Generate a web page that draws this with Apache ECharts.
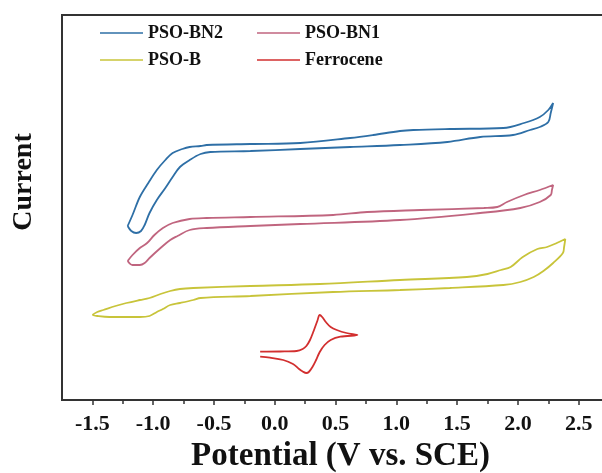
<!DOCTYPE html>
<html>
<head>
<meta charset="utf-8">
<script src="https://cdn.jsdelivr.net/npm/echarts@6/dist/echarts.min.js"></script>
<style>html,body{margin:0;padding:0;background:#fff;}#c{width:602px;height:473px;}</style>
</head>
<body>
<div id="c"></div>
<script>
// Series names
const seriesNames = ['PSO-BN2', 'PSO-BN1', 'PSO-B', 'Ferrocene'];
// Tick values (V vs. SCE)
const tickValues = [-1.5, -1.0, -0.5, 0.0, 0.5, 1.0, 1.5, 2.0, 2.5];
const minorTickValues = [-1.25, -0.75, -0.25, 0.25, 0.75, 1.25, 1.75, 2.25];

// Cyclic voltammograms: [potential (V), current (arb. units)]
const pso_bn2 = [
  [-1.21,174],[-1.17,185],[-1.11,203],[-1.04,217],[-0.97,230],[-0.90,240],[-0.84,247],[-0.76,251],
  [-0.70,253],[-0.61,254],[-0.56,255],[-0.20,256],[0.21,257],[0.62,262],[0.81,265],[1.03,269],
  [1.14,270],[1.44,271],[1.88,272],[2.05,277],[2.18,283],[2.25,290],[2.29,297],
  [2.27,287],[2.25,278],[2.18,273],[2.10,270],[1.96,265],[1.69,263],[1.42,258],[1.03,255],
  [0.62,253],[0.21,251],[-0.20,249],[-0.53,248],[-0.61,246],[-0.70,240],[-0.78,233],[-0.84,223],
  [-0.90,212],[-0.97,200],[-1.03,187],[-1.07,175],[-1.10,169],[-1.14,167],[-1.18,169],[-1.21,174]
];
const pso_bn1 = [
  [-1.21,139],[-1.17,145],[-1.11,152],[-1.05,157],[-0.99,165],[-0.92,172],[-0.84,177],[-0.70,181],
  [-0.56,182],[-0.20,183],[0.48,185],[0.76,188],[1.20,190],[1.72,192],[1.83,193],[1.91,198],
  [2.05,205],[2.18,210],[2.29,215],
  [2.28,210],[2.27,205],[2.18,198],[2.02,192],[1.69,187],[1.03,180],[0.21,176],[-0.20,174],
  [-0.56,172],[-0.70,170],[-0.80,164],[-0.86,160],[-0.94,152],[-1.03,142],[-1.07,137],[-1.11,135],
  [-1.17,135],[-1.21,139]
];
const pso_b = [
  [-1.50,85],[-1.46,88],[-1.41,90],[-1.31,94],[-1.22,97],[-1.11,100],[-1.03,102],[-0.94,106],
  [-0.86,109],[-0.78,111],[-0.67,112],[-0.20,114],[0.37,116],[1.03,120],[1.58,123],[1.75,126],
  [1.86,130],[1.94,133],[2.04,143],[2.16,151],[2.24,153],[2.32,157],[2.39,161],
  [2.38,153],[2.37,147],[2.29,137],[2.21,129],[2.13,123],[2.02,118],[1.88,115],[1.44,112],
  [1.03,110],[0.48,108],[-0.20,104],[-0.61,102],[-0.67,100],[-0.78,97],[-0.86,95],[-0.92,91],
  [-0.97,88],[-1.03,84],[-1.11,83],[-1.22,83],[-1.36,83],[-1.46,84],[-1.50,85]
];
const ferrocene = [
  [-0.12,48.3],[0.045,48.5],[0.18,49],[0.23,51],[0.26,54],[0.29,60],[0.32,69],[0.35,79],
  [0.37,85],[0.39,83],[0.42,78],[0.46,73],[0.51,70],[0.59,67],[0.68,65],
  [0.54,63.3],[0.46,60],[0.41,55],[0.37,48],[0.34,40],[0.31,33],[0.28,28],[0.26,27],
  [0.23,28.5],[0.20,31],[0.15,36],[0.07,40],[-0.04,42.3],[-0.12,43.3]
];

const seriesData = [pso_bn2, pso_bn1, pso_b, ferrocene];
const colors = ['#2e6fa6', '#c0657f', '#c8c43a', '#d22f2f'];
const FONT = '"Liberation Serif", "Times New Roman", serif';

const chart = echarts.init(document.getElementById('c'), null, {renderer: 'canvas'});

const legendPos = [[100, 24], [257, 24], [100, 51], [257, 51]];
const legends = seriesNames.map((n, i) => ({
  data: [n],
  left: legendPos[i][0],
  top: legendPos[i][1],
  icon: 'rect',
  itemWidth: 43,
  itemHeight: 1.6,
  padding: 0,
  textStyle: {fontFamily: FONT, fontWeight: 'bold', fontSize: 18, color: '#111'}
}));

chart.setOption({
  animation: false,
  backgroundColor: '#fff',
  color: colors,
  legend: legends,
  grid: {left: 62, top: 15, width: 541, height: 385, containLabel: false, outerBoundsMode: 'none',
         show: true, borderColor: '#333', borderWidth: 2, backgroundColor: 'transparent'},
  xAxis: [{
    type: 'value', min: -1.75, max: 2.7, position: 'bottom',
    splitLine: {show: false},
    axisLine: {show: true, onZero: false, lineStyle: {color: '#333', width: 2}},
    axisTick: {show: true, inside: false, length: 5, customValues: tickValues, lineStyle: {color: '#333', width: 1.5}},
    axisLabel: {customValues: tickValues, formatter: v => v.toFixed(1), fontFamily: FONT, fontWeight: 'bold', fontSize: 22, color: '#111', margin: 13},
    name: 'Potential (V vs. SCE)', nameLocation: 'middle', nameGap: 38,
    nameTextStyle: {fontFamily: FONT, fontWeight: 'bold', fontSize: 33, color: '#111', padding: [0, 0, 0, 16]}
  }, {
    type: 'value', min: -1.75, max: 2.7, position: 'bottom',
    splitLine: {show: false},
    axisLine: {show: false, onZero: false},
    axisTick: {show: true, inside: false, length: 4, customValues: minorTickValues, lineStyle: {color: '#333', width: 1.5}},
    axisLabel: {show: false}
  }],
  yAxis: {
    type: 'value', min: 0, max: 385,
    axisLine: {show: false}, axisTick: {show: false}, axisLabel: {show: false}, splitLine: {show: false}
  },
  graphic: [{
    type: 'text', x: 24, y: 182, rotation: Math.PI / 2,
    style: {text: 'Current', font: 'bold 28px ' + FONT, fill: '#111', align: 'center', verticalAlign: 'middle'}
  }],
  series: seriesNames.map((n, i) => ({
    name: n, type: 'line', xAxisIndex: 0, yAxisIndex: 0,
    data: seriesData[i], showSymbol: false, symbol: 'none', smooth: 0.35,
    lineStyle: {width: 1.8, color: colors[i]}, itemStyle: {color: colors[i]}
  }))
});
</script>
</body>
</html>
